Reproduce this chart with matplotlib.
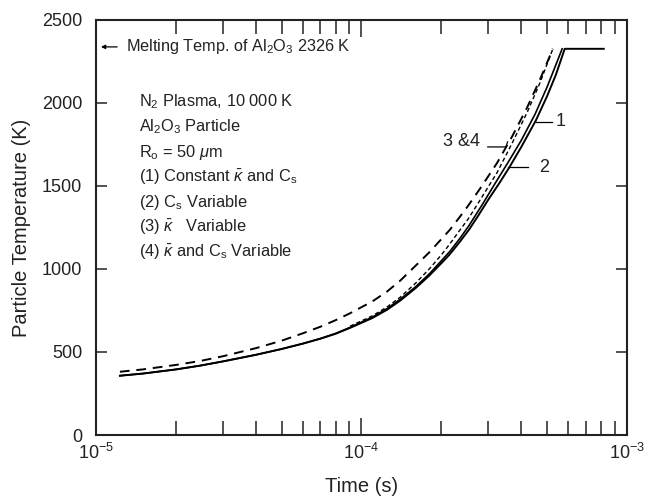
import matplotlib.pyplot as plt
from matplotlib.ticker import LogLocator, NullFormatter

plt.rcParams['font.family'] = ['Liberation Sans', 'DejaVu Sans']
plt.rcParams['mathtext.fontset'] = 'custom'
plt.rcParams['mathtext.rm'] = 'Liberation Sans'
plt.rcParams['mathtext.it'] = 'Liberation Sans:italic'

# curve 1: constant k and Cs (solid)
t1 = [1.23e-5, 1.5e-5, 2e-5, 2.47e-5, 3e-5, 4e-5, 5e-5, 6e-5, 7e-5, 8e-5, 9.05e-5,
      1.1e-4, 1.25e-4, 1.4e-4, 1.6e-4, 1.8e-4, 2.0e-4, 2.15e-4, 2.35e-4, 2.55e-4,
      2.75e-4, 3.0e-4, 3.3e-4, 3.6e-4, 4.0e-4, 4.54e-4, 5.0e-4, 5.4e-4, 5.83e-4, 8.18e-4]
T1 = [357, 370, 395, 418, 443, 483, 518, 550, 580, 610, 645,
      705, 755, 810, 885, 960, 1035, 1088, 1165, 1240,
      1320, 1416, 1515, 1610, 1735, 1895, 2040, 2170, 2326, 2326]
# curve 2: Cs variable (solid)
t2 = [1.23e-5, 1.5e-5, 2e-5, 2.47e-5, 3e-5, 4e-5, 5e-5, 6e-5, 7e-5, 8e-5, 9.05e-5,
      1.1e-4, 1.25e-4, 1.4e-4, 1.6e-4, 1.8e-4, 2.0e-4, 2.15e-4, 2.35e-4, 2.55e-4,
      2.87e-4, 3.2e-4, 3.56e-4, 4.0e-4, 4.5e-4, 5.0e-4, 5.4e-4, 5.7e-4]
T2 = [357, 370, 395, 418, 443, 483, 518, 550, 581, 612, 648,
      710, 762, 818, 893, 970, 1050, 1105, 1185, 1265,
      1395, 1520, 1640, 1775, 1930, 2095, 2230, 2326]
# curve 3: k variable (dashed)
t3 = [1.23e-5, 1.5e-5, 2e-5, 2.47e-5, 3e-5, 4e-5, 5e-5, 6e-5, 7e-5, 8e-5, 9.05e-5,
      1.1e-4, 1.25e-4, 1.4e-4, 1.6e-4, 1.8e-4, 2.0e-4, 2.15e-4, 2.35e-4, 2.52e-4,
      2.8e-4, 3.24e-4, 3.7e-4, 4.2e-4, 4.7e-4, 5.26e-4]
T3 = [381, 395, 422, 446, 474, 523, 568, 612, 652, 692, 733,
      805, 865, 930, 1020, 1100, 1180, 1235, 1315, 1380,
      1485, 1638, 1800, 1970, 2140, 2326]
# curve 4: k and Cs variable (fine dashes)
t4 = [9.05e-5, 1.1e-4, 1.25e-4, 1.4e-4, 1.6e-4, 1.8e-4, 2.0e-4, 2.15e-4, 2.35e-4,
      2.52e-4, 2.8e-4, 3.24e-4, 3.7e-4, 4.2e-4, 4.7e-4, 5.26e-4]
T4 = [655, 718, 772, 830, 915, 1000, 1085, 1150, 1235,
      1300, 1416, 1580, 1760, 1940, 2120, 2326]

info_lines = [r'N$_2$ Plasma, 10 000 K',
              r'Al$_2$O$_3$ Particle',
              r'R$_\mathrm{o}$ = 50 $\mu$m',
              r'(1) Constant $\bar{\kappa}$ and C$_\mathrm{s}$',
              r'(2) C$_\mathrm{s}$ Variable',
              r'(3) $\bar{\kappa}$   Variable',
              r'(4) $\bar{\kappa}$ and C$_\mathrm{s}$ Variable']

fig = plt.figure(figsize=(6.49, 4.98), dpi=100)
ax = fig.add_axes([0.148, 0.1265, 0.818, 0.8335])

ax.plot(t1, T1, color='black', lw=1.4)
ax.plot(t2, T2, color='black', lw=1.2)
ax.plot(t3, T3, color='black', lw=1.4, linestyle=(0, (5, 3.5)))
ax.plot(t4, T4, color='black', lw=1.0, linestyle=(0, (3, 2)))

ax.set_xscale('log')
ax.set_xlim(1e-5, 1e-3)
ax.set_ylim(0, 2500)
ax.set_yticks([0, 500, 1000, 1500, 2000, 2500])
ax.xaxis.set_minor_locator(LogLocator(base=10, subs=range(2, 10)))
ax.xaxis.set_minor_formatter(NullFormatter())

ax.tick_params(axis='both', which='both', direction='in', top=True, right=True,
               labelsize=13, colors='#222222')
ax.tick_params(axis='x', which='major', length=12, width=1.1, pad=6)
ax.tick_params(axis='x', which='minor', length=10, width=1.1)
ax.tick_params(axis='y', which='major', length=8, width=1.1, pad=10)
for s in ax.spines.values():
    s.set_linewidth(1.5)
    s.set_color('#222222')

ax.set_xlabel('Time (s)', fontsize=14.5, labelpad=10, color='#222222')
ax.set_ylabel('Particle Temperature (K)', fontsize=14.5, labelpad=8, color='#222222')

# melting temperature note
ax.annotate('', xy=(0.004, 0.935), xytext=(0.045, 0.935), xycoords='axes fraction',
            arrowprops=dict(arrowstyle='-|>', color='black', lw=0.9, mutation_scale=6))
ax.text(0.056, 0.935, r'Melting Temp. of Al$_2$O$_3$ 2326 K', transform=ax.transAxes,
        fontsize=11.7, va='center', ha='left', color='#222222')

# info block
y0 = 0.802
for i, line in enumerate(info_lines):
    ax.text(0.081, y0 - i * 0.0602, line, transform=ax.transAxes,
            fontsize=11.8, va='center', ha='left', color='#222222')

# curve labels with leader lines
ax.plot([4.54e-4, 5.22e-4], [1885, 1885], color='black', lw=0.9)
ax.text(5.4e-4, 1890, '1', fontsize=13, va='center', ha='left', color='#222222')
ax.plot([3.56e-4, 4.24e-4], [1612, 1612], color='black', lw=0.9)
ax.text(4.67e-4, 1612, '2', fontsize=13, va='center', ha='left', color='#222222')
ax.plot([2.99e-4, 3.50e-4, 3.55e-4], [1735, 1735, 1765], color='black', lw=0.9)
ax.text(2.79e-4, 1765, '3 &4', fontsize=13, va='center', ha='right', color='#222222')

fig.savefig('out.png', dpi=100)
